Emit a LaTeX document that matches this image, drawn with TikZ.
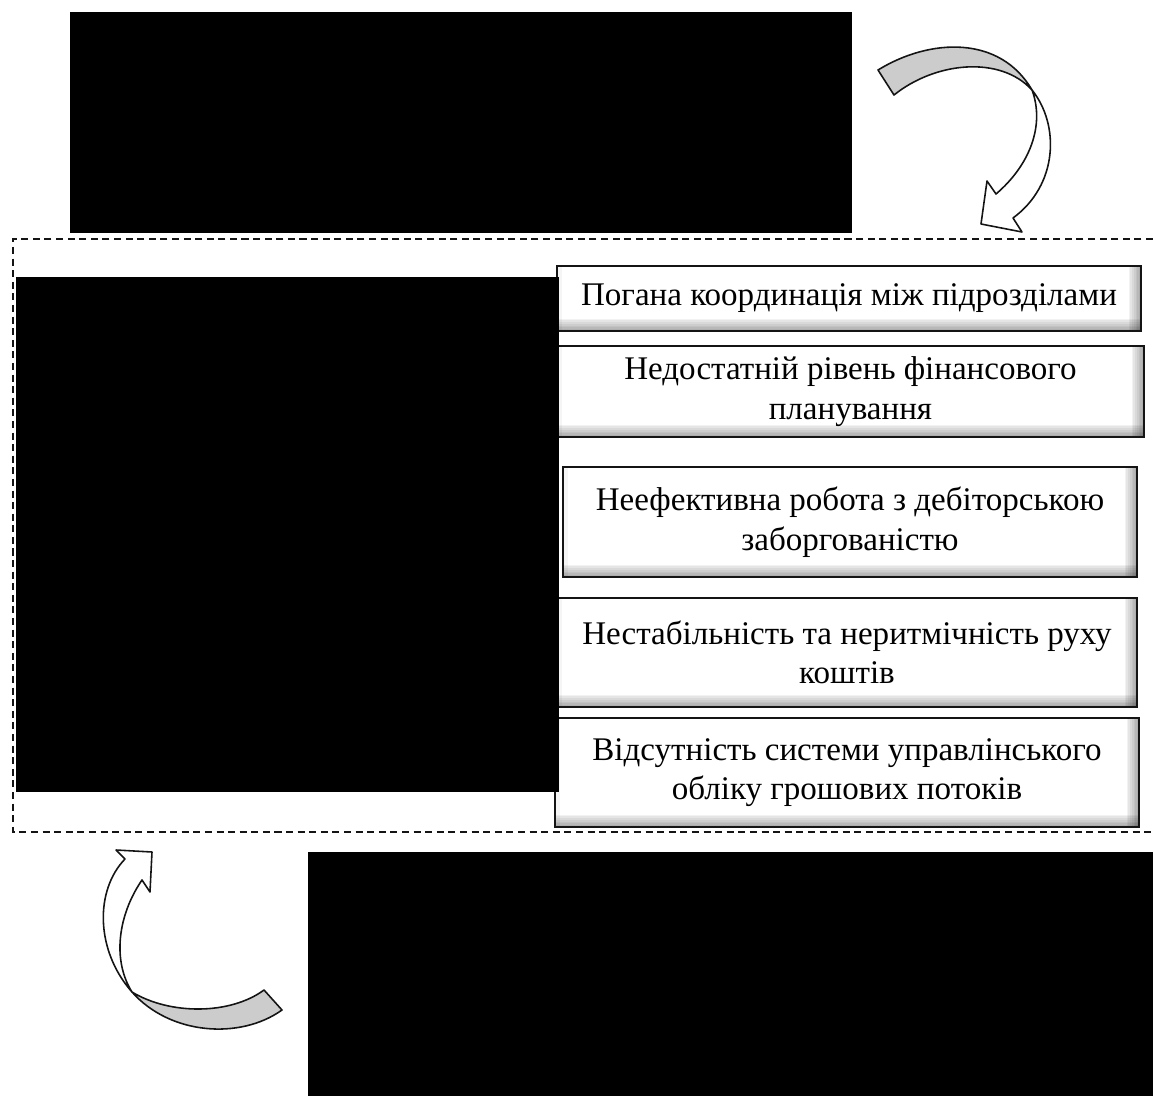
\documentclass[tikz,border=0pt]{standalone}
\usepackage{fontspec}
\setmainfont{Liberation Serif}
\usetikzlibrary{positioning,calc}
\definecolor{ink}{RGB}{20,20,20}
\definecolor{band}{RGB}{204,204,204}
\tikzset{
  cause/.style={draw=ink,line width=1.4pt,fill=white,inner sep=0pt,outer sep=0pt,align=center,
    font=\fontsize{18.8}{22.5}\selectfont,
    path picture={
      \foreach \i in {1,...,7}{
        \fill[black,opacity=0.05]
          ([xshift=-\i pt]path picture bounding box.north east) rectangle (path picture bounding box.south east);
        \fill[black,opacity=0.05]
          ([yshift=\i pt]path picture bounding box.south west) rectangle (path picture bounding box.south east);
      }
      \fill[black,opacity=0.04]
        (path picture bounding box.north west) rectangle ([xshift=3pt]path picture bounding box.south west);
    }},
  hidden/.style={fill=black,inner sep=0pt,outer sep=0pt},
  frame/.style={draw=ink,line width=0.6pt,dash pattern=on 4pt off 2.6pt},
  curlarr/.style={draw=ink,line width=0.9pt,line join=round},
}

\begin{document}
\begin{tikzpicture}[x=0.02cm,y=-0.02cm]
\useasboundingbox (0,0) rectangle (1153,1096);
% frame round the causes
\draw[frame] (1153,239) -- (13,239) -- (13,832) -- (1153,832);
% causes
\node[cause,minimum width=11.68cm,minimum height=1.30cm] (coord) at (849,298.5)
  {Погана координація між підрозділами};
\node[cause,minimum width=11.74cm,minimum height=1.82cm] (plan) at (850.5,391.5)
  {Недостатній рівень фінансового\\планування};
\node[cause,minimum width=11.48cm,minimum height=2.20cm] (debt) at (850,522)
  {Неефективна робота з дебіторською\\заборгованістю};
\node[cause,minimum width=11.60cm,minimum height=2.18cm] (flow) at (847,652.5)
  {Нестабільність та неритмічність руху\\коштів};
\node[cause,minimum width=11.68cm,minimum height=2.18cm] (acct) at (847,772.5)
  {Відсутність системи управлінського\\обліку грошових потоків};
% hidden blocks
\node[hidden,minimum width=15.64cm,minimum height=4.42cm] (topblk) at (461,122.5) {};
\node[hidden,minimum width=10.86cm,minimum height=10.30cm] (leftblk) at (287.5,534.5) {};
\node[hidden,minimum width=16.90cm,minimum height=4.88cm] (botblk) at (730.5,974) {};
% curved arrow, top right
\draw[curlarr,fill=band] (878,70) .. controls (930,38) and (1000,35) .. (1032,90)
  .. controls (1000,55) and (935,62) .. (894,95) -- cycle;
\draw[curlarr,fill=white] (1032,90) .. controls (1060,125) and (1058,185) .. (1013,218)
  -- (1022,232) -- (981,224) -- (987,181) -- (996,194)
  .. controls (1030,165) and (1045,125) .. (1032,90) -- cycle;
% curved arrow, bottom left
\draw[curlarr,fill=band] (132,992) .. controls (170,1035) and (240,1040) .. (282,1010)
  -- (264,990) .. controls (230,1015) and (170,1015) .. (132,992) -- cycle;
\draw[curlarr,fill=white] (132,992) .. controls (95,950) and (95,890) .. (125,859)
  -- (116,850) -- (152,852) -- (150,892) -- (142,880)
  .. controls (118,915) and (112,960) .. (132,992) -- cycle;
\end{tikzpicture}
\end{document}
